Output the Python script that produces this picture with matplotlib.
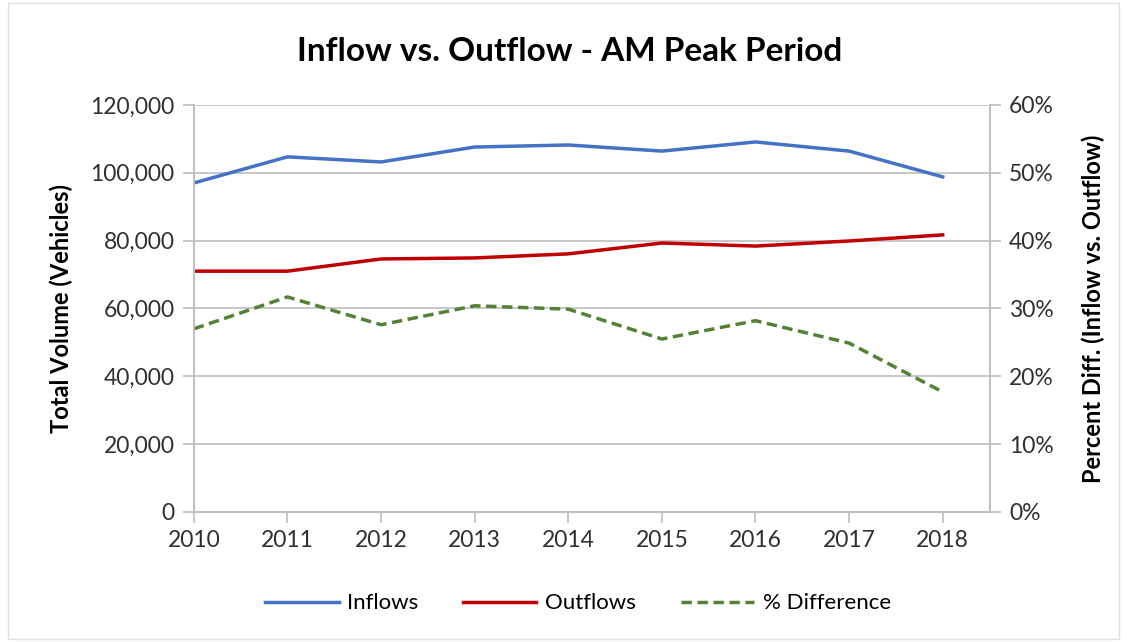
import matplotlib
matplotlib.use("Agg")
import matplotlib.pyplot as plt
from matplotlib.ticker import FuncFormatter, PercentFormatter
from matplotlib.patches import Rectangle

years = [2010, 2011, 2012, 2013, 2014, 2015, 2016, 2017, 2018]
inflows = [97000, 104700, 103200, 107600, 108200, 106400, 109100, 106400, 98800]
outflows = [71000, 71000, 74600, 74900, 76100, 79300, 78400, 79900, 81700]
pct_diff = [27.0, 31.7, 27.6, 30.4, 29.9, 25.5, 28.2, 24.9, 17.7]

plt.rcParams['font.family'] = ['Lato', 'DejaVu Sans']

fig = plt.figure(figsize=(11.27, 6.42), dpi=100)
fig.patches.append(Rectangle((0.007, 0.005), 0.986, 0.99, transform=fig.transFigure,
                             fill=False, edgecolor='#e0e0e0', linewidth=1))
ax = fig.add_axes([0.172, 0.2025, 0.706, 0.634])
ax2 = ax.twinx()

grid_c = '#bfbfbf'
l1, = ax.plot(years, inflows, color='#4472C4', lw=2.5, label='Inflows')
l2, = ax.plot(years, outflows, color='#C00000', lw=2.5, label='Outflows')
l3, = ax2.plot(years, pct_diff, color='#548235', lw=2.5, ls=(0, (3, 1.6)), label='% Difference')

ax.set_xlim(2010, 2018.5)
ax.set_ylim(0, 120000)
ax2.set_ylim(0, 60)
ax.set_xticks(years)
ax.set_yticks(range(0, 120001, 20000))
ax2.set_yticks(range(0, 61, 10))
ax.yaxis.set_major_formatter(FuncFormatter(lambda v, p: f"{int(v):,}"))
ax2.yaxis.set_major_formatter(PercentFormatter(decimals=0))

ax.grid(axis='y', color=grid_c, lw=1.2)
ax.set_axisbelow(True)
for a in (ax, ax2):
    a.spines['top'].set_visible(False)
    for s in ('left', 'right', 'bottom'):
        a.spines[s].set_color(grid_c)
        a.spines[s].set_linewidth(1.2)
    a.tick_params(colors=grid_c, length=8, width=1.2, labelsize=16.5, labelcolor='#303030')
ax.tick_params(axis='x', pad=5)
ax.tick_params(axis='y', pad=6)
ax2.tick_params(axis='y', pad=6)

ax.set_ylabel('Total Volume (Vehicles)', fontsize=17, fontweight='bold', labelpad=12)
ax2.set_ylabel('Percent Diff. (Inflow vs. Outflow)', fontsize=17, fontweight='bold', labelpad=20)
fig.text(0.505, 0.92, 'Inflow vs. Outflow - AM Peak Period', ha='center', va='center',
         fontsize=24, fontweight='bold', color='#000000')

fig.legend(handles=[l1, l2, l3], loc='center', bbox_to_anchor=(0.513, 0.06), ncol=3,
           frameon=False, fontsize=16, handlelength=3.3, columnspacing=2.0, handletextpad=0.4)

fig.savefig('out.png', dpi=100)
